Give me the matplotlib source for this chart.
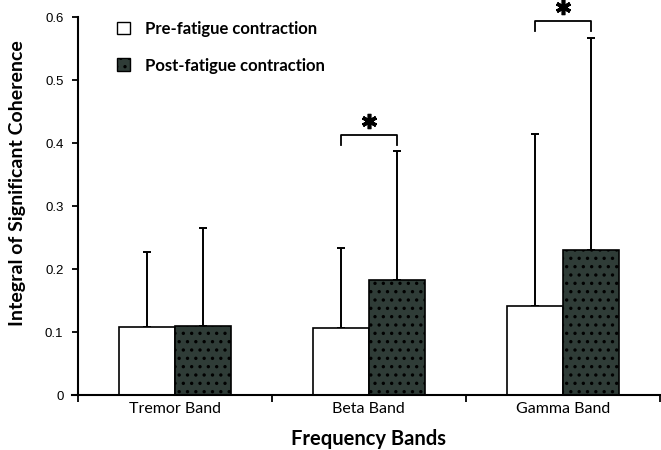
import matplotlib
matplotlib.use('Agg')
import matplotlib.pyplot as plt
import numpy as np
from matplotlib.patches import Patch

# ── Data ──────────────────────────────────────────────────────────────────────
bands     = ['Tremor Band', 'Beta Band', 'Gamma Band']
pre_mean  = [0.108, 0.107, 0.142]
pre_sd    = [0.119, 0.126, 0.272]
post_mean = [0.109, 0.182, 0.231]
post_sd   = [0.156, 0.205, 0.336]
sig_bands = [1, 2]            # bands with * between pre and post
sig_level = [0.413, 0.594]    # bracket heights

# ── Style ─────────────────────────────────────────────────────────────────────
TEXT_FONT = ['Lato', 'DejaVu Sans']
TICK_FONT = ['Liberation Sans', 'DejaVu Sans']
POST_COLOR = '#2f3c37'
plt.rcParams['hatch.color'] = '#66766e'
plt.rcParams['hatch.linewidth'] = 1.2

fig = plt.figure(figsize=(6.61, 4.5), dpi=100)
ax = fig.add_axes([0.118, 0.122, 0.880, 0.840])

x = np.arange(len(bands)) + 0.5
w = 0.29

ax.bar(x - w / 2, pre_mean, w, color='white', edgecolor='black', linewidth=1.2,
       zorder=2)
ax.bar(x + w / 2, post_mean, w, color=POST_COLOR, edgecolor='black',
       linewidth=1.2, hatch='..', zorder=2)

# one-sided error bars
ax.errorbar(x - w / 2, pre_mean, yerr=[np.zeros(3), pre_sd], fmt='none',
            ecolor='black', elinewidth=1.4, capsize=3, capthick=1.4, zorder=1)
ax.errorbar(x + w / 2, post_mean, yerr=[np.zeros(3), post_sd], fmt='none',
            ecolor='black', elinewidth=1.4, capsize=3, capthick=1.4, zorder=1)

# significance brackets
for i, lvl in zip(sig_bands, sig_level):
    x0, x1 = x[i] - w / 2, x[i] + w / 2
    ax.plot([x0, x0, x1, x1], [lvl - 0.016, lvl, lvl, lvl - 0.016],
            color='black', lw=1.3, clip_on=False)
    ax.plot((x0 + x1) / 2, lvl + 0.022, marker=(6, 2, 0), ms=11, mew=2.6,
            color='black', clip_on=False)

# ── Axes ──────────────────────────────────────────────────────────────────────
ax.set_xlim(0, 3)
ax.set_ylim(0, 0.6)
ax.spines['top'].set_visible(False)
ax.spines['right'].set_visible(False)
ax.spines['left'].set_linewidth(1.5)
ax.spines['bottom'].set_linewidth(1.5)
ax.spines['bottom'].set_bounds(-0.03, 3)

ax.set_yticks(np.arange(0, 0.61, 0.1))
ax.set_yticklabels(['0', '0.1', '0.2', '0.3', '0.4', '0.5', '0.6'],
                   family=TICK_FONT, fontsize=9.5)
ax.tick_params(axis='y', length=4.5, width=1.3, pad=6)

ax.set_xticks([0, 1, 2, 3])
ax.set_xticklabels([])
ax.set_xticks(x, minor=True)
ax.set_xticklabels(bands, minor=True, family=TEXT_FONT, fontsize=11.5)
ax.tick_params(axis='x', which='major', length=5, width=1.3)
ax.tick_params(axis='x', which='minor', length=0, pad=5)

ax.set_ylabel('Integral of Significant Coherence', family=TEXT_FONT,
              fontsize=14, fontweight='bold')
ax.yaxis.set_label_coords(-0.089, 0.56)
ax.set_xlabel('Frequency Bands', family=TEXT_FONT, fontsize=14.5,
              fontweight='bold', labelpad=9)

handles = [Patch(facecolor='white', edgecolor='black', linewidth=1.0),
           Patch(facecolor=POST_COLOR, edgecolor='black', linewidth=1.0,
                 hatch='..')]
ax.legend(handles, ['Pre-fatigue contraction', 'Post-fatigue contraction'],
          loc='upper left', bbox_to_anchor=(0.041, 1.03), frameon=False,
          handlelength=0.8, handleheight=0.8, handletextpad=0.9,
          labelspacing=1.25, prop={'family': TEXT_FONT, 'weight': 'bold',
                                   'size': 12})

fig.savefig('out.png', dpi=100)
